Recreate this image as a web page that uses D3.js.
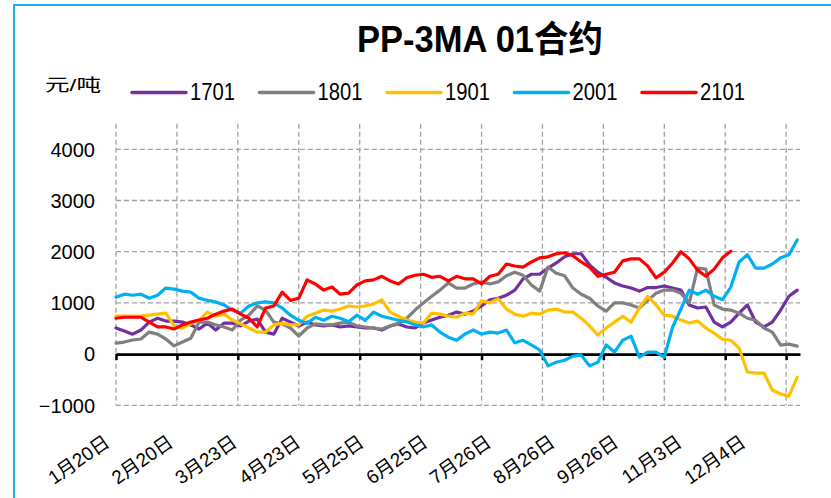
<!DOCTYPE html>
<html>
<head>
<meta charset="utf-8">
<script src="https://cdn.jsdelivr.net/npm/d3@7"></script>
<style>
  html, body { margin: 0; padding: 0; background: #fff; }
  svg { display: block; }
  text { font-family: "Liberation Sans", Arial, "Noto Sans CJK SC", sans-serif; fill: #000; }
</style>
</head>
<body>
<svg id="chart" width="831" height="498"></svg>
<script>
// PP-3MA spread for the January contracts, one value every 3 trading days
const seriesNames = ["1701", "1801", "1901", "2001", "2101"];
const seriesColors = ["#7030A0", "#808080", "#FFC000", "#00B0F0", "#FF0000"];

const s1701 = [510,450,390,470,625,700,645,645,625,570,
  490,605,470,605,605,550,645,685,430,390,
  700,625,550,625,570,550,570,530,550,530,
  510,510,470,550,590,530,510,605,665,720,
  760,820,780,840,940,1060,1090,1150,1250,1470,
  1560,1560,1680,1780,1900,1960,1960,1740,1600,1500,
  1390,1330,1290,1230,1300,1300,1330,1290,1250,960,
  900,920,625,530,625,800,960,625,530,625,
  860,1130,1250];

const s1801 = [215,235,275,295,430,390,295,160,235,310,
  625,625,570,530,470,665,760,940,860,625,
  590,510,350,510,590,570,570,605,625,550,
  530,510,490,550,605,700,860,1000,1130,1250,
  1390,1290,1290,1370,1410,1370,1410,1530,1600,1540,
  1350,1230,1700,1580,1530,1290,1170,1090,940,840,
  1000,1000,960,900,1050,1190,1250,1250,1190,1000,
  1680,1660,960,880,860,800,700,660,510,430,
  175,195,155];

const s1901 = [740,740,740,740,760,780,800,550,510,590,
  665,820,740,780,665,590,510,430,430,570,
  605,570,570,740,800,860,840,880,940,920,
  940,980,1060,820,740,665,625,605,800,780,
  740,720,800,780,1040,1000,1080,880,780,740,
  800,780,860,880,820,820,700,550,370,510,
  625,740,625,900,1130,960,760,740,665,605,
  645,510,410,290,270,120,-350,-370,-370,-700,
  -780,-820,-450];

const s2001 = [1110,1170,1150,1170,1090,1150,1290,1270,1230,1210,
  1090,1050,1020,960,860,800,940,1000,1020,1000,
  900,760,660,600,720,660,740,700,630,760,
  660,820,740,700,660,630,570,530,570,430,
  330,270,390,470,390,430,410,470,220,270,
  180,80,-230,-160,-120,-40,-20,-230,-160,180,
  40,270,350,-60,40,40,-60,530,880,1250,
  1170,1250,1130,1060,1310,1800,1940,1680,1680,1760,
  1880,1940,2230];

const s2101 = [700,720,720,720,625,530,530,490,570,625,
  665,700,780,840,880,780,700,530,900,940,
  1210,1050,1090,1450,1370,1250,1310,1170,1190,1350,
  1430,1450,1520,1430,1370,1490,1540,1560,1500,1520,
  1430,1520,1470,1470,1370,1520,1560,1760,1720,1700,
  1800,1880,1900,1960,1980,1920,1800,1700,1520,1560,
  1600,1820,1860,1860,1720,1490,1600,1780,2000,1860,
  1640,1520,1660,1880,2010];

const tickLabels = ["1月20日","2月20日","3月23日","4月23日","5月25日","6月25日",
                    "7月26日","8月26日","9月26日","11月3日","12月4日"];
const yTicks = [-1000, 0, 1000, 2000, 3000, 4000];

const titleText = "PP-3MA 01合约";
const unitText = "元/吨";

const dayStep = 3;      // trading days between stored values
const tickEvery = 22;   // trading days between axis ticks
const totalDays = 247;

const allSeries = [s1701, s1801, s1901, s2001, s2101];

const svg = d3.select("#chart");

// outer frame
svg.append("rect")
  .attr("x", 14).attr("y", 5)
  .attr("width", 900).attr("height", 600)
  .attr("fill", "none")
  .attr("stroke", "#1FAEE8")
  .attr("stroke-width", 2);

const x = d3.scaleLinear().domain([0, totalDays]).range([116, 800]);
const y = d3.scaleLinear().domain([-1000, 4500]).range([405.3, 123.7]);

const tickDays = d3.range(0, totalDays - 4, tickEvery);

// grid
const grid = svg.append("g")
  .attr("stroke", "#A0A0A0")
  .attr("stroke-width", 1.3)
  .attr("stroke-dasharray", "5,3");

grid.selectAll("line.h").data(yTicks).join("line")
  .attr("class", "h")
  .attr("x1", x(0)).attr("x2", x(totalDays))
  .attr("y1", d => y(d)).attr("y2", d => y(d));

grid.selectAll("line.v").data(tickDays).join("line")
  .attr("class", "v")
  .attr("x1", d => x(d)).attr("x2", d => x(d))
  .attr("y1", y(4500)).attr("y2", y(-1000));

// y tick labels
svg.append("g").selectAll("text").data(yTicks).join("text")
  .attr("x", 95)
  .attr("y", d => y(d))
  .attr("dy", "0.36em")
  .attr("text-anchor", "end")
  .attr("font-size", 20)
  .text(d => d < 0 ? "\u2212" + Math.abs(d) : String(d));

// zero axis with tick marks
const xAxis = d3.axisBottom(x)
  .tickValues(tickDays)
  .tickSize(6)
  .tickSizeOuter(0)
  .tickFormat("");

const axisG = svg.append("g")
  .attr("transform", `translate(0,${y(0)})`)
  .call(xAxis);
axisG.select(".domain").attr("stroke", "#000").attr("stroke-width", 2.8);
axisG.selectAll(".tick line").attr("stroke", "#000").attr("stroke-width", 2.5);

// rotated category labels
const labelX = d3.scalePoint().domain(tickLabels).range([111, 747]);
svg.append("g").selectAll("text").data(tickLabels).join("text")
  .attr("transform", d => `translate(${labelX(d)},445) rotate(-35)`)
  .attr("text-anchor", "end")
  .attr("font-size", 19)
  .text(d => d);

// series lines
const line = d3.line()
  .x((d, i) => x(i * dayStep))
  .y(d => y(d));

svg.append("g").selectAll("path").data(allSeries).join("path")
  .attr("d", d => line(d))
  .attr("fill", "none")
  .attr("stroke", (d, i) => seriesColors[i])
  .attr("stroke-width", 3.2)
  .attr("stroke-linejoin", "round")
  .attr("stroke-linecap", "round");

// title
svg.append("text")
  .attr("x", 357).attr("y", 52)
  .attr("font-size", 36)
  .attr("font-weight", "bold")
  .attr("font-family", "'Noto Sans CJK SC', 'Liberation Sans', sans-serif")
  .attr("textLength", 246)
  .attr("lengthAdjust", "spacingAndGlyphs")
  .text(titleText);

// unit
svg.append("text")
  .attr("x", 45).attr("y", 91)
  .attr("font-size", 17)
  .attr("font-family", "'Noto Sans CJK SC', sans-serif")
  .attr("textLength", 56)
  .attr("lengthAdjust", "spacingAndGlyphs")
  .text(unitText);

// legend
const legend = svg.append("g").selectAll("g").data(seriesNames).join("g")
  .attr("transform", (d, i) => `translate(${132 + i * 127.5},0)`);
legend.append("line")
  .attr("x1", 0).attr("x2", 54)
  .attr("y1", 92.5).attr("y2", 92.5)
  .attr("stroke", (d, i) => seriesColors[i])
  .attr("stroke-width", 3.5)
  .attr("stroke-linecap", "round");
legend.append("text")
  .attr("x", 58).attr("y", 100)
  .attr("font-size", 24)
  .attr("textLength", 45)
  .attr("lengthAdjust", "spacingAndGlyphs")
  .text(d => d);
</script>
</body>
</html>
